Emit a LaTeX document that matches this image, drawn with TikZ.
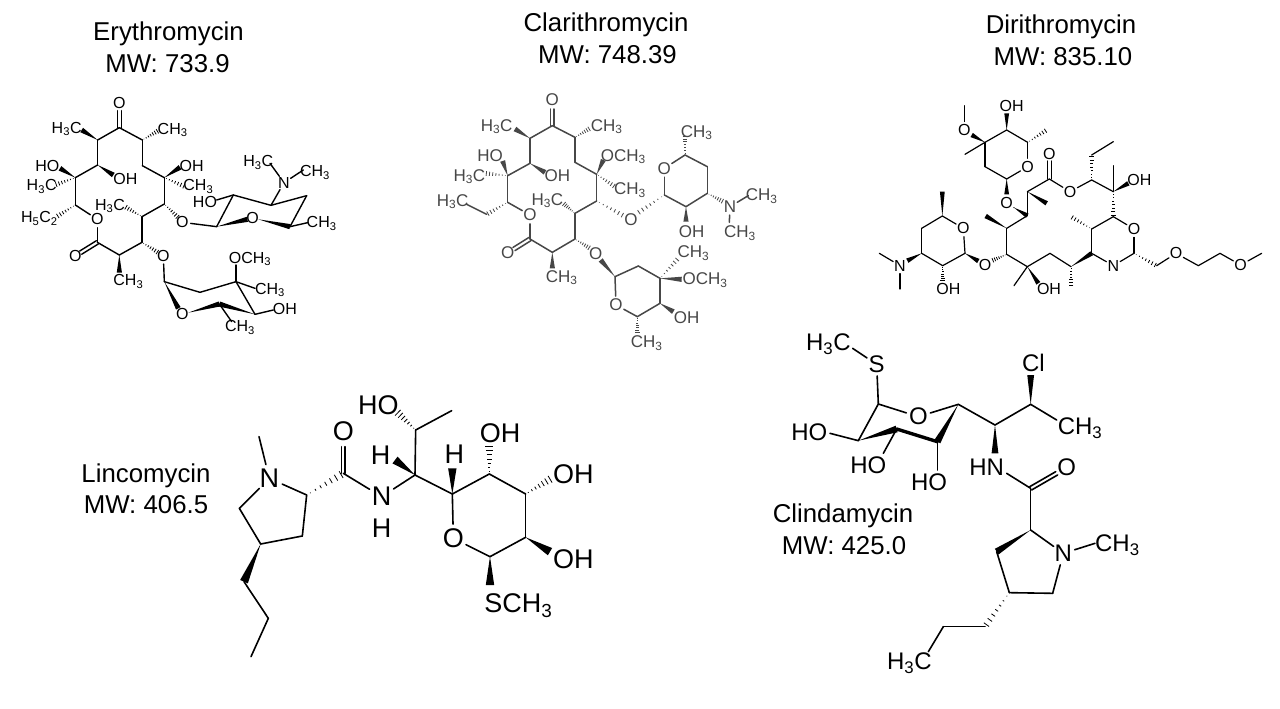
\documentclass[tikz,border=0pt]{standalone}
\usepackage{fontspec}
\setmainfont{Liberation Sans}
\usetikzlibrary{calc}
\newcommand\hc{H\textsubscript{3}C}
\newcommand\mth{CH\textsubscript{3}}
\newcommand\och{OCH\textsubscript{3}}
\def\lw{1.3}\def\ww{2.4}\def\molfs{15}
\colorlet{ink}{black}
\tikzset{
  bond/.style={line width=\lw pt,draw=ink,line cap=round,line join=round},
  lab/.style={inner sep=0pt,text=ink,font=\fontsize{\molfs}{\molfs}\selectfont},
  atom/.style={lab,circle,outer sep=0pt},
  title/.style={inner sep=0pt,align=center,text=black,font=\fontsize{25.8}{30}\selectfont},
  mol/.style={x=.33333pt,y=-.33333pt}
}
\newcommand\wg[2]{\fill[ink] (#1) -- ($(#2)!\ww pt!90:(#1)$) -- ($(#2)!\ww pt!-90:(#1)$) -- cycle;}
\newcommand\hs[2]{\foreach \t in {0.1,0.24,0.38,0.52,0.66,0.8,0.94}{\pgfmathsetmacro\dd{\t*\ww}
  \draw[ink,line width=.8pt] ($(#1)!\t!(#2)!\dd pt!90:(#2)$) -- ($(#1)!\t!(#2)!\dd pt!-90:(#2)$);}}
\newcommand\dbl[2]{\draw[bond] ($(#1)!1.9pt!90:(#2)$) -- ($(#2)!1.9pt!-90:(#1)$);
  \draw[bond] ($(#1)!1.9pt!-90:(#2)$) -- ($(#2)!1.9pt!90:(#1)$);}
\begin{document}
\begin{tikzpicture}[x=1pt,y=-1pt]
\path[use as bounding box,fill=white] (0,0) rectangle (1280,709);
% titles
\node[title] (t1a) at (168.5,34) {Erythromycin};
\node[title] (t1b) at (167.5,64) {MW: 733.9};
\node[title] (t2a) at (606,25) {Clarithromycin};
\node[title] (t2b) at (607.5,54.5) {MW: 748.39};
\node[title] (t3a) at (1061,27) {Dirithromycin};
\node[title] (t3b) at (1063,57) {MW: 835.10};
\node[title] (t4a) at (146,476) {Lincomycin};
\node[title] (t4b) at (146,505) {MW: 406.5};
\node[title] (t5a) at (843,516) {Clindamycin};
\node[title] (t5b) at (844,546) {MW: 425.0};

%% Erythromycin
\begin{scope}[shift={(10,80)},mol]
\def\lw{1.4}\def\ww{2.6}\def\molfs{16}
\foreach \n/\x/\y in {e1/328/143,e2/263/180,e3/263/255,e4/196/293,e5/196/375,e6/262/487,e7/328/525,e8/396/487,e9/396/410,e10/463/372,e11/463/293,e12/397/257,e13/397/180,
 ea/215/150,eb/445/152,ec/310/285,ed/150/265,ee/135/315,ef/140/410,eg/345/380,eh/510/262,ei/525/320,ej/328/578,ek/328/92,el/212/518,
 eu/505/413,ev/445/518,
 s1/620/440,s2/670/345,s3/783/376,s4/890/347,s5/840/440,sa/620/360,sb/780/250,sc/880/270,sd/893/428,em/745/418,en/712/418,
 t1/463/605,t2/570/637,t3/678/605,t4/735/703,t5/628/672,tb/735/625,tc/790/690,td/665/725,te/505/685,tf/535/698,ta/678/555}
 {\coordinate (\n) at (\x,\y);}
\node[atom] (eOa) at (328,68) {O};
\node[atom] (eOr) at (262,418) {O};
\node[atom] (eOc) at (196,527) {O};
\node[atom] (eOs) at (517,427) {O};
\node[atom] (eOt) at (460,527) {O};
\node[atom] (eN) at (822,308) {N};
\node[atom] (eOq) at (728,415) {O};
\node[atom] (eOp) at (517,703) {O};
\node[lab] (el1) at (170,147) {\hc};
\node[lab] (el2) at (488,150) {\mth};
\node[lab] (el3) at (346,297) {OH};
\node[lab] (el4) at (112,258) {HO};
\node[lab] (el5) at (95,320) {\hc};
\node[lab] (el6) at (88,415) {H\textsubscript{5}C\textsubscript{2}};
\node[lab] (el7) at (300,378) {\hc};
\node[lab] (el8) at (545,258) {OH};
\node[lab] (el9) at (565,320) {\mth};
\node[lab] (el10) at (355,605) {\mth};
\node[lab] (el11) at (585,367) {HO};
\node[lab] (el12) at (745,247) {\hc};
\node[lab] (el13) at (915,277) {\mth};
\node[lab] (el14) at (935,430) {\mth};
\node[lab] (el15) at (720,537) {\och};
\node[lab] (el16) at (780,630) {\mth};
\node[lab] (el17) at (825,688) {OH};
\node[lab] (el18) at (690,742) {\mth};
\foreach \a/\b in {e1/e2,e2/e3,e3/e4,e4/e5,e5/eOr,eOr/e6,e6/e7,e7/e8,e8/e9,e9/e10,e10/e11,e11/e12,e12/e13,e13/e1,eOs/s1,s1/s2,s2/sa,s2/s3,s3/eN,eN/sb,eN/sc,s3/s4,s4/s5,s5/sd,eOt/t1,t1/t2,t2/t3,t3/ta,t3/tb,t3/t4,t4/tc,t5/td}
 {\draw[bond] (\a)--(\b);}
\dbl{e1}{ek}\dbl{e6}{el}
\foreach \a/\b in {e2/ea,e3/ec,e4/ed,e11/eh,e7/ej,s1/en,em/s5,t1/te,t4/t5,tf/t5} {\wg{\a}{\b}}
\foreach \a/\b in {e13/eb,e4/ee,e5/ef,e9/eg,e11/ei,e10/eu,e8/ev} {\hs{\a}{\b}}
\end{scope}

%% Clarithromycin
\begin{scope}[shift={(430,85)},mol]
\colorlet{ink}{black!72}
\def\lw{1.5}\def\ww{2.6}\def\molfs{17}
\foreach \n/\x/\y in {c1/367/122,c2/300/160,c3/300/235,c4/233/272,c5/233/352,c6/300/462,c7/367/502,c8/435/462,c9/435/385,c10/500/348,c11/500/268,c12/435/232,c13/435/157,
 ca/255/132,cb/480/130,cc/345/262,cd/218/228,ce/165/265,cf/170/388,cg/110/358,ch/400/355,ci/520/225,cj/555/305,ck/367/550,cl/367/72,cm/252/492,
 cp/582/393,cq/622/385,cr/480/490,
 d1/703/330,d2/765/210,d3/832/245,d4/832/325,d5/768/365,da/765/150,db/768/410,dc/880/350,dd/955/332,de/898/412,
 u1/555/575,u2/625/543,u3/690/580,u4/690/655,u5/622/695,ua/745/520,ub/755/583,uc/730/680,ud/622/745,ue/512/525}
 {\coordinate (\n) at (\x,\y);}
\node[atom] (cOa) at (367,45) {O};
\node[atom] (cOr) at (300,390) {O};
\node[atom] (cOc) at (233,503) {O};
\node[atom] (cOs) at (603,405) {O};
\node[atom] (cOt) at (497,505) {O};
\node[atom] (cOd) at (703,250) {O};
\node[atom] (cN) at (900,365) {N};
\node[atom] (cOu) at (558,660) {O};
\node[lab] (cl1) at (200,125) {\hc};
\node[lab] (cl2) at (530,125) {\mth};
\node[lab] (cl3) at (382,272) {OH};
\node[lab] (cl4) at (180,212) {HO};
\node[lab] (cl5) at (118,275) {\hc};
\node[lab] (cl6) at (68,350) {\hc};
\node[lab] (cl7) at (352,347) {\hc};
\node[lab] (cl8) at (580,215) {\och};
\node[lab] (cl9) at (600,315) {\mth};
\node[lab] (cl10) at (395,578) {\mth};
\node[lab] (cl11) at (800,143) {\mth};
\node[lab] (cl12) at (785,440) {OH};
\node[lab] (cl13) at (995,333) {\mth};
\node[lab] (cl14) at (930,445) {\mth};
\node[lab] (cl15) at (790,505) {\mth};
\node[lab] (cl16) at (825,585) {\och};
\node[lab] (cl17) at (770,697) {OH};
\node[lab] (cl18) at (650,775) {\mth};
\foreach \a/\b in {c1/c2,c2/c3,c3/c4,c4/c5,c5/cOr,cOr/c6,c6/c7,c7/c8,c8/c9,c9/c10,c10/c11,c11/c12,c12/c13,c13/c1,cf/cg,d1/cOd,cOd/d2,d2/d3,d3/d4,d4/d5,d5/d1,cN/dd,cN/de,u1/u2,u2/u3,u3/u4,u4/u5,u5/cOu,cOu/u1}
 {\draw[bond] (\a)--(\b);}
\dbl{c1}{cl}\dbl{c6}{cm}
\foreach \a/\b in {c2/ca,c3/cc,c4/cd,c11/ci,c7/ck,d5/db,u3/ub,u4/uc,u1/ue} {\wg{\a}{\b}}
\foreach \a/\b in {c13/cb,c4/ce,c5/cf,c9/ch,c11/cj,c10/cp,d1/cq,d2/da,d4/dc,u3/ua,u5/ud,c8/cr} {\hs{\a}{\b}}
\end{scope}

%% Dirithromycin
\begin{scope}[shift={(870,85)},mol]
\def\lw{1.2}\def\ww{2.4}\def\molfs{16}
\foreach \n/\x/\y in {v1/345/172,v2/410/135,v3/473/172,v4/410/282,v5/345/245,va/283/62,vb/285/208,vc/410/85,vd/530/135,ve/305/150,vf/410/328,
 r1/472/392,r2/472/320,r3/538/282,r4/665/285,r5/730/320,r6/730/395,r7/792/505,r8/665/505,r9/665/432,r10/603/545,r11/540/505,r12/472/545,r13/410/508,r14/410/430,
 ra/432/368,rb/530/355,rc/538/228,rd/665/210,re/730/170,rf/730/242,rg/775/295,rh/603/395,ri/603/605,rj/432/602,rk/505/595,rl/347/393,rm/366/527,
 w1/285/505,w2/217/393,w3/155/430,w4/155/505,w5/218/542,wa/217/320,wb/218/590,wc/112/527,wd/28/505,we/90/612,wf/325/528,
 x1/860/542,x2/985/542,x3/1050/505,x4/1175/505}
 {\coordinate (\n) at (\x,\y);}
\node[atom] (dOa) at (283,135) {O};
\node[atom] (dOb) at (473,245) {O};
\node[atom] (dOc) at (410,355) {O};
\node[atom] (dOd) at (538,208) {O};
\node[atom] (dOe) at (600,320) {O};
\node[atom] (dOf) at (792,432) {O};
\node[atom] (dNa) at (730,542) {N};
\node[atom] (dOg) at (345,540) {O};
\node[atom] (dOh) at (280,430) {O};
\node[atom] (dNb) at (90,542) {N};
\node[atom] (dOi) at (918,505) {O};
\node[atom] (dOj) at (1112,540) {O};
\node[lab] (dl1) at (425,62) {OH};
\node[lab] (dl2) at (808,285) {OH};
\node[lab] (dl3) at (537,612) {OH};
\node[lab] (dl4) at (235,612) {OH};
\foreach \a/\b in {va/dOa,v1/vb,v1/v2,v2/v3,v3/dOb,dOb/v4,v4/v5,v5/v1,dOc/ra,r1/r2,r2/r3,r3/dOe,dOe/r4,rd/re,r4/r5,r5/rf,r6/dOf,dOf/r7,r7/dNa,dNa/r8,r6/r9,r9/r8,r10/r11,r11/r12,r12/rj,r12/r13,r13/r14,r14/r1,w1/dOh,dOh/w2,w2/w3,w3/w4,w4/w5,w5/w1,dNb/wd,dNb/we,x1/dOi,dOi/x2,x2/x3,x3/dOj,dOj/x4}
 {\draw[bond] (\a)--(\b);}
\dbl{r3}{rc}
\foreach \a/\b in {v1/ve,v2/vc,v4/vf,ra/r1,r2/rb,r5/rg,r10/r8,r12/rk,r14/rl,w1/wf,w2/wa,w4/wc} {\wg{\a}{\b}}
\foreach \a/\b in {v3/vd,r4/rd,r5/r6,r9/rh,r10/ri,r13/rm,w5/wb,r7/x1} {\hs{\a}{\b}}
\end{scope}

%% Lincomycin
\begin{scope}[shift={(220,380)},mol]
\def\lw{1.6}\def\ww{4.2}\def\molfs{27}
\foreach \n/\x/\y in {l1/260/345,l2/58/385,l3/122/492,l4/247/468,l5/72/605,l6/145/715,l7/93/830,lm/117/170,
 l8/370/280,la/370/200,l9/585/285,lb/525/240,l10/587/150,lc/530/95,ld/695/92,l11/697/342,le/697/265,
 l12/810/530,lf/810/615,l13/917/472,lg/990/515,l14/917/342,lh/995/295,l15/808/282,li/808/195}
 {\coordinate (\n) at (\x,\y);}
\node[atom,inner sep=0.5pt] (lN) at (148,295) {N};
\node[atom] (lO) at (370,155) {O};
\node[atom,inner sep=0.5pt] (lNb) at (485,350) {N};
\node[atom] (lOr) at (700,475) {O};
\node[lab] (ll1) at (485,445) {H};
\node[lab] (ll2) at (482,225) {H};
\node[lab] (ll3) at (475,75) {HO};
\node[lab] (ll4) at (703,222) {H};
\node[lab] (ll5) at (895,677) {S\mth};
\node[lab] (ll6) at (1060,537) {OH};
\node[lab] (ll7) at (1060,283) {OH};
\node[lab] (ll8) at (840,160) {OH};
\foreach \a/\b in {lm/lN,lN/l1,lN/l2,l2/l3,l3/l4,l4/l1,l5/l6,l6/l7,l8/lNb,lNb/l9,l9/l10,l10/ld,l9/l11,l11/lOr,lOr/l12,l12/l13,l13/l14,l14/l15,l15/l11}
 {\draw[bond] (\a)--(\b);}
\dbl{l8}{la}
\foreach \a/\b in {l3/l5,l9/lb,l11/le,l12/lf,l13/lg} {\wg{\a}{\b}}
\foreach \a/\b in {l1/l8,l10/lc,l14/lh,l15/li} {\hs{\a}{\b}}
\end{scope}

%% Clindamycin
\begin{scope}[shift={(780,325)},mol]
\def\lw{1.6}\def\ww{3.4}\def\molfs{24}
\foreach \n/\x/\y in {k1/295/237,k2/535/238,k3/472/350,k4/350/312,k5/235/347,k6/645/300,k7/752/238,k8/752/490,k9/752/615,k10/818/805,k11/688/803,k12/650/680,k13/615/905,k14/490/905,k15/445/980,
 ka/218/70,kb/150/325,kc/310/385,kd/472/435,ke/645/385,kf/752/150,kg/830/285,kh/680/445,ki/830/445,kj/945/655}
 {\coordinate (\n) at (\x,\y);}
\node[atom] (kS) at (290,118) {S};
\node[atom] (kO) at (415,275) {O};
\node[atom] (kOc) at (860,428) {O};
\node[atom] (kN) at (850,685) {N};
\node[lab] (kl1) at (145,58) {\hc};
\node[lab] (kl2) at (88,322) {HO};
\node[lab] (kl3) at (265,420) {HO};
\node[lab] (kl4) at (447,473) {HO};
\node[lab] (kl5) at (620,428) {HN};
\node[lab] (kl6) at (760,115) {Cl};
\node[lab] (kl7) at (900,310) {\mth};
\node[lab] (kl8) at (1012,660) {\mth};
\node[lab] (kl9) at (388,1015) {\hc};
\foreach \a/\b in {ka/kS,kS/k1,k1/kO,kO/k2,k5/k1,k5/kb,k4/kc,k3/kd,k2/k6,k6/k7,k7/kg,kh/k8,k8/k9,k9/kN,kN/kj,kN/k10,k10/k11,k11/k12,k13/k14,k14/k15}
 {\draw[bond] (\a)--(\b);}
\draw[bond,line width=3.4pt] (k3)--(k4);
\dbl{k8}{ki}
\foreach \a/\b in {k2/k3,k5/k4,k6/ke,k7/kf,k9/k12} {\wg{\a}{\b}}
\hs{k11}{k13}
\end{scope}
\end{tikzpicture}
\end{document}
